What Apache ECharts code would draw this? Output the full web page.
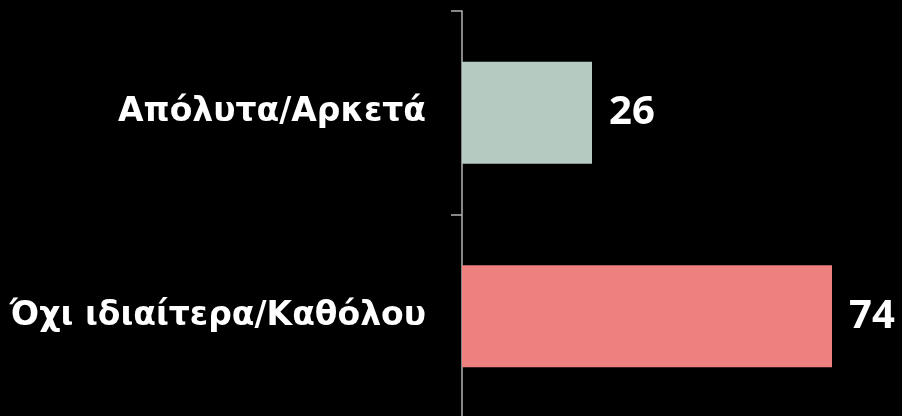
<!DOCTYPE html>
<html><head><meta charset="utf-8">
<script src="https://cdn.jsdelivr.net/npm/echarts@6/dist/echarts.min.js"></script>
<style>html,body{margin:0;padding:0;background:#000;}#c{width:902px;height:416px;}</style>
</head><body><div id="c"></div>
<script>
const categories = ['Απόλυτα/Αρκετά', 'Όχι ιδιαίτερα/Καθόλου'];
const values = [26, 74];
const barColors = ['#b5cac0', '#ee8080'];

const chart = echarts.init(document.getElementById('c'));
chart.setOption({
  backgroundColor: '#000',
  animation: false,
  grid: { left: 462, width: 440, top: 11, height: 407, containLabel: false, outerBoundsMode: 'none' },
  xAxis: { type: 'value', min: 0, max: 88, show: false },
  yAxis: {
    type: 'category', data: categories, inverse: true,
    axisLine: { show: true, lineStyle: { color: '#b4b4b4', width: 1.5 } },
    axisTick: { show: true, length: 11, lineStyle: { color: '#b4b4b4', width: 1.5 } },
    axisLabel: { color: '#fff', fontSize: 33, fontWeight: 'bold', fontFamily: 'DejaVu Sans', margin: 36 }
  },
  series: [{
    type: 'bar', barWidth: 102,
    data: values.map((v, i) => ({ value: v, itemStyle: { color: barColors[i] } })),
    label: { show: true, position: 'right', distance: 17, color: '#fff', fontSize: 40, fontWeight: 'bold', fontFamily: 'Noto Sans' }
  }]
});
</script></body></html>
